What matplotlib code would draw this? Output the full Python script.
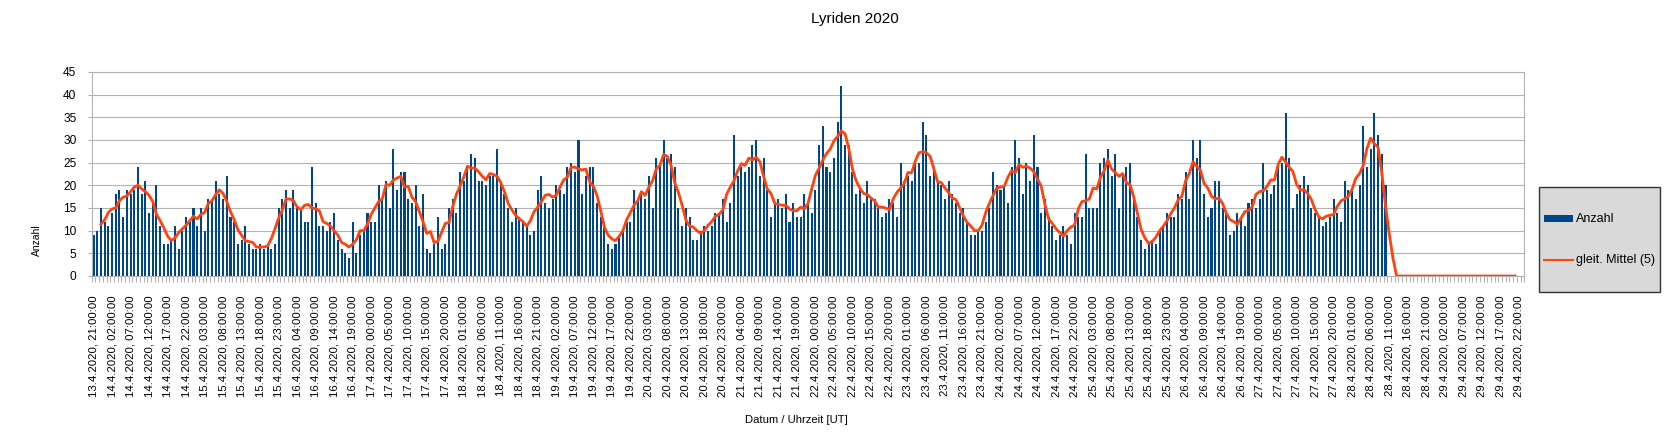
import numpy as np
import pandas as pd
import matplotlib
matplotlib.use("Agg")
import matplotlib.pyplot as plt
from matplotlib.patches import Rectangle
from matplotlib.lines import Line2D

plt.rcParams['font.family'] = ['Liberation Sans', 'DejaVu Sans']

title = "Lyriden 2020"
x_title = "Datum / Uhrzeit [UT]"
y_title = "Anzahl"
series_bar = "Anzahl"
series_line = "gleit. Mittel (5)"
start_time = "2020-04-13 21:00"
n_hours = 387
label_step = 5

counts_observed = [
    # 13.4. 21:00 ...
    9, 10, 15, 12, 11, 14, 18, 19, 13, 19, 18, 19, 24, 18, 21, 14, 16, 20, 11, 7,
    7, 8, 11, 6, 10, 13, 12, 15, 11, 15, 10, 17, 17, 21, 18, 17, 22, 13, 12, 7,
    8, 11, 7, 6,
    6, 7, 6, 7, 6, 7, 15, 17, 19, 15, 19, 15, 15, 12, 12, 24, 16, 11, 11, 10,
    12, 14, 8, 6, 5, 4, 12, 5, 9, 10, 14, 12, 12, 20, 17, 21, 15, 28, 19, 23,
    23, 17, 16, 20, 11,
    18, 6, 5, 7, 13, 6, 7, 15, 17, 14, 23, 21, 24, 27, 26, 21, 21, 20, 22, 22,
    28, 20, 18, 15, 12, 15, 13, 12, 11, 9, 10, 19, 22, 16, 15, 17, 20, 19, 18, 24,
    25, 23, 30,
    18, 22, 24, 24, 16, 13, 12, 7, 6, 7, 9, 10, 12, 12, 19, 17, 18, 17, 22, 15,
    26, 25, 30, 26, 27, 24, 15, 11, 15, 13, 8, 8, 10, 11, 10, 11, 14, 14, 17, 12,
    16, 31, 22, 24,
    23, 24, 29, 30, 22, 26, 19, 13, 16, 17, 15, 18, 12, 16, 13, 13, 18, 16, 14, 19,
    29, 33, 24, 23, 26, 34, 42,
    29, 29, 23, 18, 19, 16, 21, 17, 17, 15, 13, 14, 17, 16, 13, 25, 21, 22, 21, 25,
    25,
    34, 31, 22, 24, 21, 20, 17, 21, 18, 16, 14, 15, 12, 9, 9, 10, 10, 12, 15, 23,
    20, 19, 20, 16, 24, 30, 26, 18, 25, 21, 31, 24, 14, 17, 13, 11, 8, 9, 11, 9,
    7, 14,
    13, 13, 27, 15, 15, 15, 25, 26, 28, 22, 27, 15, 22, 24, 25, 17, 13, 8, 6, 7,
    8, 7, 10, 11, 14, 13, 13, 18, 17, 23, 17, 30, 26, 30, 18, 13, 15, 21, 21, 15,
    14, 9, 10, 14, 13, 11,
    16, 17, 15, 17, 25, 19, 18, 20, 24, 25, 36, 26, 15, 18, 20, 22, 20, 15, 14, 13,
    11, 12, 13, 17, 14, 12, 21, 19, 19, 17, 20, 33, 24, 28, 36, 31, 27, 20,
]
counts = counts_observed + [0] * (n_hours - len(counts_observed))

times = pd.date_range(start_time, periods=n_hours, freq="h")
tick_labels = [f"{t.day}.{t.month}.{t.year}, {t:%H:%M:%S}" for t in times]
moving_avg = pd.Series(counts, dtype=float).rolling(5, center=True).mean()

fig = plt.figure(figsize=(16.76, 4.38), dpi=100)
ax = fig.add_axes([91.7 / 1676, 1 - 276 / 438, 1432.6 / 1676, 204 / 438])

x = np.arange(n_hours)
ax.bar(x, counts, width=0.55, color="#004586", zorder=2, label=series_bar)
ax.plot(x, moving_avg, color="#ff420e", lw=2.0, zorder=3,
        solid_joinstyle="round", label=series_line)

ax.set_xlim(-0.5, n_hours - 0.5)
ax.set_ylim(0, 45)
ax.set_yticks(range(0, 46, 5))
ax.yaxis.grid(True, color="#b3b3b3", lw=0.8)
ax.set_axisbelow(True)

ax.set_xticks(x[::label_step])
ax.set_xticklabels(tick_labels[::label_step], rotation=90, fontsize=8.2)
ax.set_xticks(np.arange(-0.5, n_hours, 1), minor=True)
ax.tick_params(axis="x", which="major", length=0, pad=14)
ax.tick_params(axis="x", which="minor", length=4, color="#b3b3b3", width=0.8)
ax.tick_params(axis="y", length=3, color="#b3b3b3", width=0.8, labelsize=8.6, pad=8)
for s in ax.spines.values():
    s.set_color("#b3b3b3")
    s.set_linewidth(0.8)

ax.set_xlabel(x_title, fontsize=8.1, va="center", ha="center")
ax.xaxis.set_label_coords((796 - 91.7) / 1432.6, (276 - 420) / 204)
ax.set_ylabel(y_title, fontsize=7.5, va="center", ha="center")
ax.yaxis.set_label_coords((37 - 91.7) / 1432.6, (276 - 240) / 204)

fig.suptitle(title, x=855 / 1676, y=1 - 19 / 438, fontsize=11, va="center")

# legend box (drawn like the original side legend)
W, H = 1676, 438
fig.add_artist(Rectangle((1539 / W, 1 - 292 / H), 121 / W, 105 / H,
                         transform=fig.transFigure, facecolor="#d9d9d9",
                         edgecolor="#333333", lw=1.0))
fig.add_artist(Rectangle((1544 / W, 1 - 222.5 / H), 29 / W, 7 / H,
                         transform=fig.transFigure, facecolor="#004586",
                         edgecolor="none"))
fig.add_artist(Line2D([1544 / W, 1573 / W], [1 - 260 / H] * 2,
                      transform=fig.transFigure, color="#ff420e", lw=1.5))
fig.text(1576 / W, 1 - 219 / H, series_bar, fontsize=9, va="center", ha="left")
fig.text(1576 / W, 1 - 260 / H, series_line, fontsize=9, va="center", ha="left")

fig.savefig("out.png", dpi=100)
